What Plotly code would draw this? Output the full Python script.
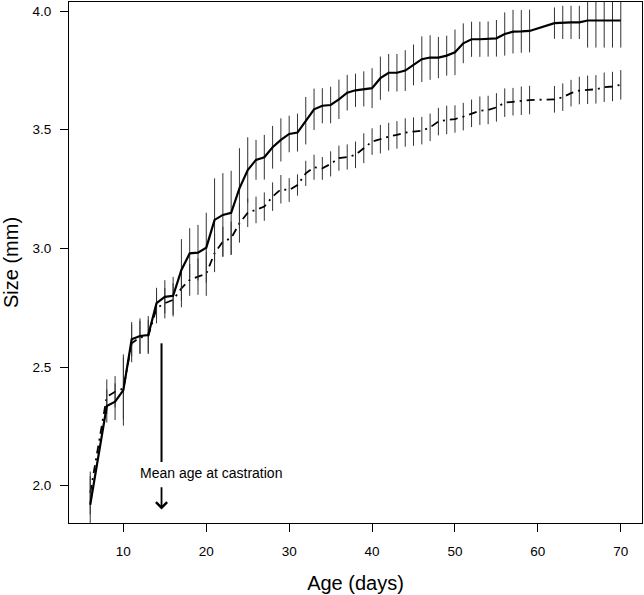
import plotly.graph_objects as go

# ---- data ----
days = [6, 8, 9, 10, 11, 12, 13, 14, 15, 16, 17, 18, 19, 20,
        21, 22, 23, 24, 25, 26, 27, 28, 29, 30,
        31, 32, 33, 34, 35, 36, 37, 38, 39, 40,
        41, 42, 43, 44, 45, 46, 47, 48, 49, 50,
        51, 52, 53, 54, 55, 56, 57, 58, 59,
        62, 63, 64, 65, 66, 67, 68, 69, 70]

solid_mean = [1.920, 2.336, 2.354, 2.403, 2.617, 2.631, 2.635, 2.769, 2.796, 2.800, 2.909, 2.979, 2.982, 3.003,
              3.120, 3.141, 3.150, 3.253, 3.330, 3.373, 3.384, 3.426, 3.457, 3.482,
              3.488, 3.538, 3.586, 3.601, 3.604, 3.628, 3.656, 3.666, 3.672, 3.675,
              3.717, 3.740, 3.740, 3.749, 3.773, 3.797, 3.804, 3.804, 3.812, 3.826,
              3.864, 3.881, 3.881, 3.882, 3.885, 3.903, 3.913, 3.914, 3.916,
              3.949, 3.952, 3.952, 3.952, 3.960, 3.960, 3.960, 3.960, 3.960]

solid_err = [0.12, 0.07, 0.077, 0.15, 0.073, 0.074, 0.08, 0.065, 0.07, 0.08, 0.13, 0.106, 0.117, 0.147,
             0.175, 0.176, 0.177, 0.169, 0.138, 0.084, 0.094, 0.09, 0.091, 0.077,
             0.08, 0.10, 0.087, 0.074, 0.077, 0.083, 0.075, 0.07, 0.074, 0.084,
             0.091, 0.079, 0.079, 0.086, 0.086, 0.096, 0.094, 0.087, 0.084, 0.096,
             0.084, 0.074, 0.074, 0.074, 0.077, 0.091, 0.092, 0.09, 0.09,
             0.066, 0.07, 0.07, 0.07, 0.114, 0.114, 0.114, 0.114, 0.114]

dashed_mean = [1.970, 2.375, 2.396, 2.410, 2.600, 2.625, 2.630, 2.748, 2.769, 2.783, 2.832, 2.867, 2.881, 2.893,
               2.980, 3.028, 3.043, 3.106, 3.150, 3.162, 3.176, 3.218, 3.249, 3.246,
               3.267, 3.316, 3.342, 3.337, 3.356, 3.380, 3.385, 3.394, 3.422, 3.450,
               3.460, 3.471, 3.478, 3.488, 3.492, 3.496, 3.510, 3.534, 3.541, 3.545,
               3.555, 3.569, 3.580, 3.583, 3.594, 3.614, 3.618, 3.622, 3.625,
               3.628, 3.637, 3.654, 3.665, 3.668, 3.670, 3.679, 3.682, 3.689]

dashed_err = [0.09, 0.073, 0.066, 0.13, 0.08, 0.07, 0.07, 0.064, 0.064, 0.07, 0.08, 0.067, 0.077, 0.093,
              0.08, 0.063, 0.07, 0.082, 0.06, 0.056, 0.06, 0.06, 0.06, 0.05,
              0.045, 0.053, 0.053, 0.048, 0.053, 0.053, 0.053, 0.056, 0.063, 0.056,
              0.06, 0.058, 0.058, 0.06, 0.06, 0.058, 0.058, 0.058, 0.06, 0.058,
              0.058, 0.058, 0.06, 0.06, 0.06, 0.06, 0.058, 0.06, 0.06,
              0.056, 0.058, 0.056, 0.058, 0.06, 0.06, 0.062, 0.062, 0.062]

x_ticks = [10, 20, 30, 40, 50, 60, 70]
y_ticks = [2.0, 2.5, 3.0, 3.5, 4.0]

castration_age = 14.6
marker_line_top = 2.6
marker_line_bottom = 2.1
arrow_top = 2.0
arrow_tip = 1.9
label_text = "Mean age at castration"
label_x = 20.6
label_y = 2.055

FONT = "Liberation Sans, Arial, Helvetica, sans-serif"

fig = go.Figure()

fig.add_trace(go.Scatter(
    x=days, y=dashed_mean, mode="lines",
    line=dict(color="black", width=1.8, dash="8px,5px,2px,5px"),
    error_y=dict(type="data", array=dashed_err, visible=True, width=0,
                 thickness=1, color="#333333"),
    showlegend=False, hoverinfo="x+y"))

fig.add_trace(go.Scatter(
    x=days, y=solid_mean, mode="lines",
    line=dict(color="black", width=2.2),
    error_y=dict(type="data", array=solid_err, visible=True, width=0,
                 thickness=1, color="#333333"),
    showlegend=False, hoverinfo="x+y"))

# vertical marker segment for mean age at castration
fig.add_trace(go.Scatter(
    x=[castration_age, castration_age], y=[marker_line_top, marker_line_bottom],
    mode="lines", line=dict(color="black", width=2),
    showlegend=False, hoverinfo="skip"))

fig.add_annotation(
    x=castration_age, y=arrow_tip, ax=castration_age, ay=arrow_top,
    xref="x", yref="y", axref="x", ayref="y",
    text="", showarrow=True, arrowhead=4, arrowsize=1.2, arrowwidth=1.8,
    arrowcolor="black")

fig.add_annotation(
    x=label_x, y=label_y, xref="x", yref="y", text=label_text,
    showarrow=False, font=dict(family=FONT, size=14, color="black"),
    xanchor="center", yanchor="middle")

fig.update_layout(
    width=644, height=595,
    margin=dict(l=69, r=2, t=2, b=72),
    plot_bgcolor="white", paper_bgcolor="white",
    font=dict(family=FONT, color="black"),
    xaxis=dict(
        range=[3.44, 72.56], tickvals=x_ticks,
        showgrid=False, zeroline=False,
        showline=True, mirror=True, linecolor="black", linewidth=1,
        ticks="outside", ticklen=8, tickcolor="black", tickwidth=1,
        tickfont=dict(family=FONT, size=13.5, color="black"),
        ticklabelstandoff=8,
        title=dict(text="Age (days)", font=dict(family=FONT, size=20, color="black"),
                   standoff=17),
        automargin=False),
    yaxis=dict(
        range=[1.843, 4.038], tickvals=y_ticks, tickformat=".1f",
        showgrid=False, zeroline=False,
        showline=True, mirror=True, linecolor="black", linewidth=1,
        ticks="outside", ticklen=8, tickcolor="black", tickwidth=1,
        tickfont=dict(family=FONT, size=13.5, color="black"),
        ticklabelstandoff=6,
        title=dict(text="Size (mm)", font=dict(family=FONT, size=20, color="black"),
                   standoff=10),
        automargin=False),
)

fig.write_html("out.html",
               config={"displayModeBar": False},
               post_script="document.body.style.margin='0';document.body.style.overflow='hidden';")
